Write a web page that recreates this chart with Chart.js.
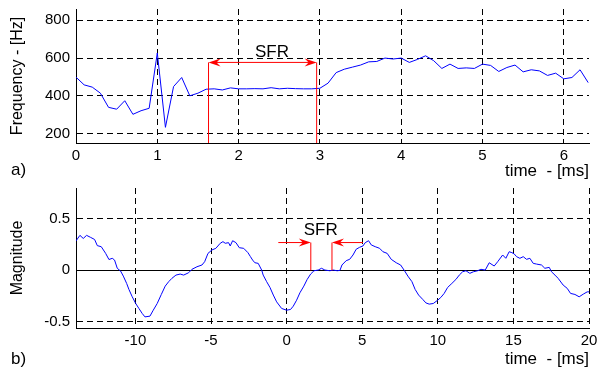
<!DOCTYPE html>
<html><head><meta charset="utf-8">
<script src="https://cdn.jsdelivr.net/npm/chart.js@4.4.0/dist/chart.umd.min.js"></script>
<style>
html,body{margin:0;padding:0;background:#fff;width:602px;height:367px;overflow:hidden}
canvas{position:absolute;left:0}
#c1{top:0}
#c2{top:183px}
</style></head><body>
<canvas id="c1" width="602" height="183"></canvas>
<canvas id="c2" width="602" height="184"></canvas>
<script>
// ---- data: panel a) instantaneous frequency ----
const freqTime = [0,0.1,0.2,0.3,0.4,0.5,0.6,0.7,0.8,0.9,1.0,1.1,1.2,1.3,1.4,1.5,1.6,1.7,1.8,1.9,
  2.0,2.1,2.2,2.3,2.4,2.5,2.6,2.7,2.8,2.9,3.0,3.1,3.2,3.3,3.4,3.5,3.6,3.7,3.8,3.9,
  4.0,4.1,4.2,4.3,4.4,4.5,4.6,4.7,4.8,4.9,5.0,5.1,5.2,5.3,5.4,5.5,5.6,5.7,5.8,5.9,
  6.0,6.1,6.2,6.3];
const freqHz = [499,458,446,414,339,329,374,302,321,334,627,233,449,497,400,414,435,437,431,442,
  437,437,438,437,443,437,440,438,437,437,440,467,523,541,552,563,580,582,600,595,
  600,577,593,612,586,545,568,545,548,545,568,561,529,550,563,527,538,532,508,520,
  490,497,538,470];
const freqXTicks = [0,1,2,3,4,5,6];
const freqYTicks = [200,400,600,800];
const freqXRange = [0, 6.31];
const freqYRange = [150, 860];
const sfrA = [1.63, 2.96];      // SFR start / end (ms)
const sfrALevel = 577;          // arrow level (Hz)
const sfrALabel = [2.41, 628];  // label anchor (ms, Hz)

// ---- data: panel b) magnitude ----
const magTime = [-13.96,-13.67,-13.45,-13.23,-12.96,-12.70,-12.52,-12.26,-11.97,-11.75,-11.53,-11.38,-11.20,-10.98,-10.80,-10.58,-10.43,-10.21,
  -9.98,-9.77,-9.55,-9.37,-9.04,-8.82,-8.56,-8.29,-8.03,-7.80,-7.59,-7.32,-7.04,-6.81,-6.48,-6.26,-5.93,-5.60,-5.42,-5.20,
  -4.94,-4.68,-4.39,-4.21,-4.06,-3.84,-3.73,-3.57,-3.35,-3.13,-2.84,-2.56,-2.40,-2.25,-2.10,-1.88,-1.65,-1.55,-1.32,-1.10,
  -0.88,-0.66,-0.33,0,0.26,0.44,0.66,0.88,1.14,1.36,1.59,1.81,2.09,2.31,2.53,2.86,3.08,3.35,3.53,3.66,3.94,4.17,4.39,4.60,
  4.83,5.05,5.20,5.42,5.60,5.86,6.15,6.37,6.65,6.92,7.25,7.54,7.80,8.02,8.29,8.50,8.73,9.01,9.21,9.43,9.70,9.99,
  10.20,10.42,10.65,10.93,11.20,11.42,11.64,11.86,12.12,12.35,12.63,12.85,13.14,13.40,13.73,13.96,14.29,14.50,14.72,14.90,
  15.05,15.21,15.43,15.65,15.87,16.09,16.31,16.53,16.86,17.08,17.37,17.52,17.75,17.96,18.29,18.56,18.78,19.07,19.35,19.62,19.88,20.0];
const magValue = [0.28,0.34,0.31,0.34,0.32,0.30,0.24,0.23,0.165,0.105,0.117,0.10,0.02,-0.007,-0.056,-0.127,-0.185,-0.257,
  -0.322,-0.37,-0.419,-0.452,-0.445,-0.387,-0.322,-0.235,-0.153,-0.11,-0.078,-0.046,-0.036,-0.046,-0.023,0.01,0.035,0.052,0.084,0.165,
  0.198,0.214,0.263,0.279,0.263,0.269,0.237,0.288,0.269,0.22,0.214,0.172,0.135,0.10,0.074,0.068,0.003,-0.046,-0.11,-0.166,
  -0.24,-0.306,-0.37,-0.387,-0.38,-0.348,-0.29,-0.218,-0.153,-0.088,-0.036,-0.004,0.003,0.02,0.003,-0.004,0.003,-0.004,0.0,0.052,0.094,0.107,0.149,0.205,
  0.224,0.237,0.269,0.288,0.247,0.23,0.214,0.181,0.165,0.107,0.074,0.052,-0.004,-0.056,-0.11,-0.185,-0.24,-0.283,-0.316,-0.328,-0.322,-0.29,
  -0.263,-0.224,-0.166,-0.127,-0.088,-0.046,-0.014,-0.004,-0.029,-0.014,-0.004,0.01,0.003,0.074,0.042,0.084,0.149,0.117,0.181,0.172,
  0.16,0.133,0.117,0.133,0.107,0.117,0.068,0.061,0.052,0.02,0.029,-0.014,-0.046,-0.078,-0.143,-0.175,-0.224,-0.234,-0.257,-0.231,-0.209,-0.209];
const magXTicks = [-10,-5,0,5,10,15,20];
const magYTicks = [-0.5,0,0.5];
const magXRange = [-13.93, 20];
const magYRange = [-0.56, 0.8];
const sfrB = [1.6, 3.0];          // SFR start / end (ms)
const sfrBLevel = 0.27;           // arrow level
const sfrBTails = [-0.55, 5.05];  // arrow tail positions (ms)
const sfrBLabel = [2.26, 0.39];   // label anchor

// ---- drawing ----
const FONT = "'Liberation Sans', Arial, Helvetica, sans-serif";
const RED = '#ff0000';
const DASH = [6, 4];

function head(ctx, tipX, y, dir) {
  ctx.beginPath();
  ctx.moveTo(tipX, y);
  ctx.lineTo(tipX - 12 * dir, y - 4);
  ctx.lineTo(tipX - 8 * dir, y);
  ctx.lineTo(tipX - 12 * dir, y + 4);
  ctx.closePath();
  ctx.fill();
}
function line(ctx, x1, y1, x2, y2) {
  ctx.beginPath(); ctx.moveTo(x1, y1); ctx.lineTo(x2, y2); ctx.stroke();
}

function baseOptions(xr, yr, xt, yt, yTitle, yDash, pad, xH, titlePadB) {
  return {
    responsive: false, animation: false, devicePixelRatio: 1,
    layout: { padding: pad },
    plugins: { legend: { display: false }, tooltip: { enabled: false } },
    elements: { point: { radius: 0 }, line: { tension: 0 } },
    scales: {
      x: {
        type: 'linear', min: xr[0], max: xr[1],
        afterBuildTicks: s => { s.ticks = xt.map(v => ({ value: v })); },
        afterFit: s => { s.height = xH; s.paddingLeft = 0; s.paddingRight = 0; },
        grid: { color: '#000', lineWidth: 1, drawTicks: false },
        border: { display: true, color: '#000', width: 1, dash: DASH },
        ticks: { color: '#000', font: { family: FONT, size: 15 }, padding: 4, maxRotation: 0,
          callback: v => String(v) },
        title: { display: true, text: 'time  - [ms]', align: 'end', color: '#000',
          font: { family: FONT, size: 17 }, padding: { top: 0, bottom: titlePadB } }
      },
      y: {
        type: 'linear', min: yr[0], max: yr[1],
        afterBuildTicks: s => { s.ticks = yt.map(v => ({ value: v })); },
        afterFit: s => { s.width = 76; s.paddingTop = 0; s.paddingBottom = 0; },
        grid: { color: '#000', lineWidth: 1, drawTicks: false },
        border: { display: true, color: '#000', width: 1, dash: yDash },
        ticks: { color: '#000', font: { family: FONT, size: 15 }, padding: 6,
          callback: v => String(v) },
        title: { display: true, text: yTitle, color: '#000',
          font: { family: FONT, size: 16 }, padding: { top: 8, bottom: 0 } }
      }
    }
  };
}

// panel a
new Chart(document.getElementById('c1'), {
  type: 'line',
  data: { datasets: [{ data: freqTime.map((t, i) => ({ x: t, y: freqHz[i] })),
    borderColor: '#0000ff', borderWidth: 1, fill: false }] },
  options: baseOptions(freqXRange, freqYRange, freqXTicks, freqYTicks, 'Frequency - [Hz]', DASH,
    { top: 9, right: 13, left: 0, bottom: 0 }, 40, 1),
  plugins: [{
    id: 'sfrA',
    afterDatasetsDraw(chart) {
      const { ctx, chartArea } = chart;
      const X = chart.scales.x, Y = chart.scales.y;
      const x1 = X.getPixelForValue(sfrA[0]), x2 = X.getPixelForValue(sfrA[1]);
      const ya = Y.getPixelForValue(sfrALevel);
      ctx.save();
      ctx.strokeStyle = RED; ctx.fillStyle = RED; ctx.lineWidth = 1;
      line(ctx, x1, chartArea.bottom, x1, ya);
      line(ctx, x2, chartArea.bottom, x2, ya);
      line(ctx, x1 + 4, ya, x2 - 4, ya);
      head(ctx, x1, ya, -1);
      head(ctx, x2, ya, 1);
      ctx.fillStyle = '#000';
      ctx.font = '17px ' + FONT;
      ctx.textAlign = 'center'; ctx.textBaseline = 'middle';
      ctx.fillText('SFR', X.getPixelForValue(sfrALabel[0]), Y.getPixelForValue(sfrALabel[1]));
      ctx.textAlign = 'left';
      ctx.fillText('a)', 11, 170);
      ctx.restore();
    }
  }]
});

// panel b
new Chart(document.getElementById('c2'), {
  type: 'line',
  data: { datasets: [{ data: magTime.map((t, i) => ({ x: t, y: magValue[i] })),
    borderColor: '#0000ff', borderWidth: 1, fill: false }] },
  options: baseOptions(magXRange, magYRange, magXTicks, magYTicks, 'Magnitude',
    ctx => (ctx.tick && ctx.tick.value === 0) ? [] : DASH,
    { top: 5, right: 13, left: 0, bottom: 0 }, 39, -3),
  plugins: [{
    id: 'sfrB',
    afterDatasetsDraw(chart) {
      const { ctx } = chart;
      const X = chart.scales.x, Y = chart.scales.y;
      const xl = X.getPixelForValue(sfrB[0]), xr = X.getPixelForValue(sfrB[1]);
      const y0 = Y.getPixelForValue(0), ya = Y.getPixelForValue(sfrBLevel);
      const tl = X.getPixelForValue(sfrBTails[0]), tr = X.getPixelForValue(sfrBTails[1]);
      ctx.save();
      ctx.strokeStyle = RED; ctx.fillStyle = RED; ctx.lineWidth = 1;
      line(ctx, xl, y0, xl, ya);
      line(ctx, xr, y0, xr, ya);
      line(ctx, tl, ya, xl - 4, ya);
      line(ctx, tr, ya, xr + 4, ya);
      head(ctx, xl, ya, 1);
      head(ctx, xr, ya, -1);
      ctx.fillStyle = '#000';
      ctx.font = '17px ' + FONT;
      ctx.textAlign = 'center'; ctx.textBaseline = 'middle';
      ctx.fillText('SFR', X.getPixelForValue(sfrBLabel[0]), Y.getPixelForValue(sfrBLabel[1]));
      ctx.textAlign = 'left';
      ctx.fillText('b)', 11, 176);
      ctx.restore();
    }
  }]
});
</script>
</body></html>
